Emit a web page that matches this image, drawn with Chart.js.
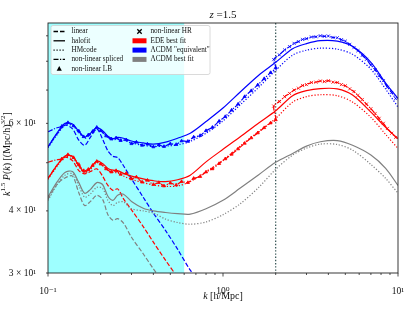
<!DOCTYPE html>
<html>
<head>
<meta charset="utf-8">
<script src="https://cdn.jsdelivr.net/npm/chart.js@4.4.1/dist/chart.umd.min.js"></script>
<style>
  html, body { margin: 0; padding: 0; background: #fff; }
  #chart { display: block; }
</style>
</head>
<body>
<canvas id="chart" width="414" height="311"></canvas>
<script>
// k (h/Mpc) for the theory curves
const kTheory = [0.1, 0.113, 0.125, 0.138, 0.15, 0.162, 0.175, 0.19, 0.205, 0.22, 0.235, 0.25, 0.27, 0.3, 0.35, 0.4, 0.47, 0.55, 0.65, 0.8, 1.0, 1.25, 1.6, 2.0, 2.5, 3.0, 3.6, 4.5, 5.5, 7.0, 8.5, 10];

// LCDM "equivalent" (blue)
const blueHalofit = [53.8, 57.5, 60.0, 59.8, 57.8, 56.3, 57.3, 58.8, 58.0, 56.5, 55.9, 56.2, 56.0, 55.3, 54.8, 54.5, 55.0, 56.0, 57.3, 60.5, 64.4, 69.3, 75.0, 79.6, 84.8, 86.8, 88.0, 87.8, 85.7, 79.6, 72.3, 67.3];
const blueHMcode = [53.6, 57.0, 59.5, 59.4, 57.5, 56.0, 57.0, 58.3, 57.6, 56.2, 55.6, 55.8, 55.5, 54.8, 54.2, 53.9, 54.0, 54.3, 55.2, 57.3, 60.7, 65.3, 70.9, 76.7, 82.3, 84.2, 85.0, 84.6, 82.6, 77.1, 70.3, 64.7];
const blueLinear = [53.8, 57.3, 59.5, 58.5, 55.5, 54.2, 56.3, 58.5, 55.8, 52.8, 51.5, 51.2, 49.3, 46.4, 42.6, 39.6, 36.5, 33.5, 30.4, 27.6];

// EDE best fit (red)
const redHalofit = [46.5, 49.5, 51.6, 51.5, 49.3, 47.9, 48.8, 50.4, 49.8, 48.7, 48.3, 48.2, 47.6, 47.0, 46.4, 46.0, 45.8, 46.2, 47.2, 50.2, 53.2, 56.3, 60.1, 63.6, 68.2, 69.8, 70.5, 70.4, 68.4, 63.2, 58.9, 55.9];
const redHMcode = [46.3, 49.2, 51.3, 51.2, 49.1, 47.7, 48.5, 50.0, 49.4, 48.3, 47.8, 47.7, 47.0, 46.3, 45.6, 45.1, 44.8, 44.9, 45.8, 48.0, 50.6, 54.0, 57.8, 61.4, 66.2, 67.9, 68.5, 68.2, 66.2, 61.7, 57.0, 53.4];
const redLinear = [46.5, 49.5, 51.3, 50.5, 48.2, 47.5, 48.0, 48.6, 47.0, 45.0, 44.0, 44.3, 42.3, 40.2, 37.2, 34.6, 31.8, 29.4];

// LCDM best fit (gray)
const grayHalofit = [42.7, 45.8, 47.8, 48.0, 45.6, 43.4, 44.2, 45.6, 45.2, 42.8, 42.0, 43.0, 43.2, 41.8, 40.5, 40.0, 39.7, 39.5, 39.4, 40.4, 42.0, 44.4, 47.3, 50.1, 52.2, 54.0, 55.1, 55.4, 54.2, 51.8, 48.7, 45.0];
const grayHMcode = [42.0, 45.2, 47.2, 47.5, 45.0, 42.6, 43.3, 44.6, 44.4, 42.0, 41.0, 41.6, 41.7, 40.4, 40.0, 39.6, 38.5, 37.9, 37.6, 38.0, 39.3, 41.3, 44.6, 48.5, 51.8, 53.5, 54.5, 54.4, 53.0, 49.6, 46.5, 43.4];
const grayLinear = [42.3, 45.3, 46.6, 47.0, 43.5, 41.0, 41.8, 43.0, 42.2, 39.3, 38.3, 38.6, 37.8, 35.4, 32.8, 30.6, 28.4];

// simulations: low-k start of the spliced curve, LB box (k < 2), HR box (k > 2)
const kSpliceLow = [0.1, 0.11];
const blueSpliceLow = [57.7, 58.6];
const redSpliceLow = [50.1, 50.6];

const kLB = [0.12, 0.13, 0.14, 0.15, 0.16, 0.17, 0.18, 0.19, 0.2, 0.215, 0.23, 0.245, 0.26, 0.28, 0.3, 0.32, 0.345, 0.37, 0.4, 0.43, 0.46, 0.5, 0.54, 0.58, 0.63, 0.68, 0.74, 0.8, 0.87, 0.95, 1.03, 1.12, 1.22, 1.33, 1.45, 1.58, 1.72, 1.87, 2.0];
const blueLB = [59.2, 60.2, 59.3, 57.9, 56.4, 56.9, 57.8, 58.9, 58.0, 56.6, 55.8, 56.1, 55.4, 55.6, 54.6, 55.0, 54.2, 54.5, 53.8, 54.3, 53.9, 54.6, 54.4, 55.3, 55.2, 56.3, 56.7, 58.0, 58.9, 60.6, 61.9, 63.8, 65.6, 67.9, 69.8, 71.7, 73.8, 75.9, 77.6];
const redLB = [50.9, 51.9, 51.2, 49.6, 48.2, 48.5, 49.4, 50.3, 49.7, 48.6, 47.9, 48.2, 47.4, 47.6, 46.4, 46.8, 45.7, 46.1, 45.2, 45.6, 44.9, 45.5, 45.1, 45.8, 45.6, 46.5, 46.9, 47.9, 48.6, 49.8, 50.9, 52.0, 53.3, 54.7, 56.1, 57.4, 58.8, 60.1, 61.0];

const kHR = [1.95, 2.1, 2.25, 2.4, 2.55, 2.7, 2.85, 3.0, 3.2, 3.4, 3.6, 3.8, 4.0, 4.25, 4.5, 4.75, 5.0, 5.3, 5.6, 5.9, 6.25, 6.6, 7.0, 7.4, 7.8, 8.25, 8.7, 9.2, 9.7];
const blueHR = [80.6, 82.4, 84.3, 85.6, 86.9, 87.6, 88.5, 88.8, 89.5, 89.6, 90.0, 89.8, 89.9, 89.3, 89.2, 88.4, 87.8, 86.5, 85.2, 84.0, 82.2, 80.7, 78.6, 76.9, 74.8, 73.1, 70.9, 69.2, 67.3];
const redHR = [65.0, 66.4, 67.9, 68.9, 70.0, 70.6, 71.5, 71.8, 72.5, 72.6, 73.0, 72.8, 73.1, 72.6, 72.5, 71.8, 71.4, 70.4, 69.5, 68.3, 67.0, 65.6, 64.2, 62.8, 61.4, 60.0, 58.6, 57.3, 56.2];

// shaded k range and splicing scale
const cyanRange = [0.1, 0.6];
const kSplice = 2.0;

// ticks
const xTickValues = [0.1, 0.2, 0.3, 0.4, 0.5, 0.6, 0.7, 0.8, 0.9, 1, 2, 3, 4, 5, 6, 7, 8, 9, 10];
const xTickLabels = ['10⁻¹', '', '', '', '', '', '', '', '', '10⁰', '', '', '', '', '', '', '', '', '10¹'];
const xMajor = [0.1, 1, 10];
const yTickValues = [30, 40, 50, 60, 70, 80, 90];
const yTickLabels = ['3 × 10¹', '4 × 10¹', '', '6 × 10¹', '', '', ''];

const legendLeft = ['linear', 'halofit', 'HMcode', 'non-linear spliced', 'non-linear LB'];
const legendRight = ['non-linear HR', 'EDE best fit', 'ΛCDM "equivalent"', 'ΛCDM best fit'];

const BLUE = '#0000ff', RED = '#ff0000', GRAY = '#808080';
const SERIF = "'Liberation Serif', 'DejaVu Serif', serif";
const DASH = [4.5, 2], DOT = [1.2, 1.8], DASHDOT = [5, 1.5, 1.2, 1.5];

function pts(ks, vs) { return vs.map((v, i) => ({ x: ks[i], y: v })); }

function curve(label, ks, vs, color, dash) {
  return {
    label, data: pts(ks, vs), borderColor: color, borderWidth: 1.2, borderDash: dash,
    pointRadius: 0, fill: false, tension: 0.3
  };
}

function marks(label, ks, vs, color, style, r) {
  return {
    label, data: pts(ks, vs), showLine: false, borderColor: color, backgroundColor: color,
    pointStyle: style, pointRadius: r, pointBorderWidth: 0.8
  };
}

function fontOf(p, size) {
  return (p.it ? 'italic ' : '') + (p.sup ? size * 0.7 : size) + 'px ' + SERIF;
}

// text with italic parts and superscripts, centred at (x, y)
function drawRich(ctx, parts, x, y, size, rotate) {
  ctx.save();
  ctx.translate(x, y);
  if (rotate) ctx.rotate(-Math.PI / 2);
  ctx.textAlign = 'left';
  ctx.textBaseline = 'middle';
  ctx.fillStyle = '#111';
  let w = 0;
  parts.forEach(p => { ctx.font = fontOf(p, size); w += ctx.measureText(p.t).width; });
  let cx = -w / 2;
  parts.forEach(p => {
    ctx.font = fontOf(p, size);
    ctx.fillText(p.t, cx, p.sup ? -size * 0.38 : 0);
    cx += ctx.measureText(p.t).width;
  });
  ctx.restore();
}

function drawLegend(ctx, a) {
  const bx = a.left + 3, by = a.top + 2.5, bw = 159, bh = 49;
  ctx.save();
  ctx.fillStyle = 'rgba(255,255,255,0.8)';
  ctx.strokeStyle = '#d0d0d0';
  ctx.lineWidth = 0.8;
  ctx.beginPath();
  ctx.roundRect(bx, by, bw, bh, 2);
  ctx.fill();
  ctx.stroke();

  const rowY = i => by + 6 + i * 9.3;
  const h0 = bx + 2.5, h1 = bx + 14;
  ctx.strokeStyle = '#000';
  ctx.fillStyle = '#000';
  ctx.lineWidth = 1.3;
  [DASH, [], DOT, DASHDOT].forEach((d, i) => {
    ctx.setLineDash(d);
    ctx.beginPath();
    ctx.moveTo(h0, rowY(i));
    ctx.lineTo(h1, rowY(i));
    ctx.stroke();
  });
  ctx.setLineDash([]);
  // triangle marker
  const tx = (h0 + h1) / 2, ty = rowY(4);
  ctx.beginPath();
  ctx.moveTo(tx, ty - 2.6);
  ctx.lineTo(tx + 2.6, ty + 2);
  ctx.lineTo(tx - 2.6, ty + 2);
  ctx.closePath();
  ctx.fill();

  // right column handles
  const c0 = bx + 81.5, c1 = bx + 95.5, cm = (c0 + c1) / 2;
  ctx.beginPath();
  ctx.moveTo(cm - 2.2, rowY(0) - 2.2); ctx.lineTo(cm + 2.2, rowY(0) + 2.2);
  ctx.moveTo(cm + 2.2, rowY(0) - 2.2); ctx.lineTo(cm - 2.2, rowY(0) + 2.2);
  ctx.stroke();
  [RED, BLUE, GRAY].forEach((c, i) => {
    ctx.fillStyle = c;
    ctx.fillRect(c0, rowY(i + 1) - 2.5, c1 - c0, 5);
  });

  ctx.fillStyle = '#111';
  ctx.font = '7.2px ' + SERIF;
  ctx.textBaseline = 'middle';
  ctx.textAlign = 'left';
  legendLeft.forEach((t, i) => ctx.fillText(t, bx + 20.5, rowY(i)));
  legendRight.forEach((t, i) => ctx.fillText(t, bx + 99.5, rowY(i)));
  ctx.restore();
}

const decor = {
  id: 'decor',
  beforeDatasetsDraw(chart) {
    const { ctx, chartArea: a, scales: { x } } = chart;
    ctx.save();
    const x0 = x.getPixelForValue(cyanRange[0]), x1 = x.getPixelForValue(cyanRange[1]);
    ctx.fillStyle = 'rgba(0,255,255,0.38)';
    ctx.fillRect(x0, a.top, x1 - x0, a.bottom - a.top);
    const xs = x.getPixelForValue(kSplice);
    ctx.strokeStyle = '#2f4f4f';
    ctx.lineWidth = 1.2;
    ctx.setLineDash([1.4, 1.8]);
    ctx.beginPath();
    ctx.moveTo(xs, a.top);
    ctx.lineTo(xs, a.bottom);
    ctx.stroke();
    ctx.restore();
  },
  afterDraw(chart) {
    const { ctx, chartArea: a, scales: { x, y } } = chart;
    ctx.save();
    ctx.strokeStyle = '#222';
    ctx.lineWidth = 0.9;
    ctx.strokeRect(a.left, a.top, a.right - a.left, a.bottom - a.top);
    ctx.lineWidth = 0.8;
    ctx.beginPath();
    xTickValues.forEach(v => {
      const px = x.getPixelForValue(v);
      const len = xMajor.includes(v) ? 3.5 : 2;
      ctx.moveTo(px, a.bottom);
      ctx.lineTo(px, a.bottom + len);
    });
    yTickValues.forEach(v => {
      const py = y.getPixelForValue(v);
      ctx.moveTo(a.left, py);
      ctx.lineTo(a.left - 2, py);
    });
    ctx.stroke();
    ctx.restore();

    drawLegend(ctx, a);

    const cx = (a.left + a.right) / 2;
    drawRich(ctx, [{ t: 'z', it: true }, { t: ' =1.5' }], cx, 15, 11);
    drawRich(ctx, [{ t: 'k', it: true }, { t: ' [h/Mpc]' }], cx, 296, 10);
    drawRich(ctx, [
      { t: 'k', it: true }, { t: '1.5', sup: true }, { t: ' ' }, { t: 'P', it: true },
      { t: '(' }, { t: 'k', it: true }, { t: ') [(Mpc/h)' }, { t: '3/2', sup: true }, { t: ']' }
    ], 7, 154, 10, true);
  }
};

const tickFont = { family: SERIF, size: 9.5 };

new Chart(document.getElementById('chart'), {
  type: 'line',
  data: {
    datasets: [
      curve('gray linear', kTheory, grayLinear, GRAY, DASH),
      curve('gray halofit', kTheory, grayHalofit, GRAY, []),
      curve('gray HMcode', kTheory, grayHMcode, GRAY, DOT),
      curve('red linear', kTheory, redLinear, RED, DASH),
      curve('red halofit', kTheory, redHalofit, RED, []),
      curve('red HMcode', kTheory, redHMcode, RED, DOT),
      curve('red spliced', kSpliceLow.concat(kLB, kHR), redSpliceLow.concat(redLB, redHR), RED, DASHDOT),
      marks('red LB', kLB, redLB, RED, 'triangle', 1.8),
      marks('red HR', kHR, redHR, RED, 'crossRot', 2.2),
      curve('blue linear', kTheory, blueLinear, BLUE, DASH),
      curve('blue halofit', kTheory, blueHalofit, BLUE, []),
      curve('blue HMcode', kTheory, blueHMcode, BLUE, DOT),
      curve('blue spliced', kSpliceLow.concat(kLB, kHR), blueSpliceLow.concat(blueLB, blueHR), BLUE, DASHDOT),
      marks('blue LB', kLB, blueLB, BLUE, 'triangle', 1.8),
      marks('blue HR', kHR, blueHR, BLUE, 'crossRot', 2.2)
    ]
  },
  options: {
    responsive: false,
    animation: false,
    devicePixelRatio: 1,
    layout: { padding: { top: 23, right: 16, left: 0, bottom: 0 } },
    plugins: {
      legend: { display: false },
      tooltip: { enabled: false },
      title: { display: false }
    },
    scales: {
      x: {
        type: 'logarithmic', min: 0.1, max: 10,
        grid: { display: false }, border: { display: false },
        afterBuildTicks: s => { s.ticks = xTickValues.map(v => ({ value: v })); },
        afterFit: s => { s.height = 38; },
        ticks: {
          autoSkip: false, maxRotation: 0, padding: 5, color: '#111', font: tickFont,
          callback: (v, i) => xTickLabels[i]
        }
      },
      y: {
        type: 'logarithmic', min: 30, max: 95.5,
        grid: { display: false }, border: { display: false },
        afterBuildTicks: s => { s.ticks = yTickValues.map(v => ({ value: v })); },
        afterFit: s => { s.width = 48; },
        ticks: {
          autoSkip: false, padding: 4, color: '#111', font: tickFont,
          callback: (v, i) => yTickLabels[i]
        }
      }
    }
  },
  plugins: [decor]
});
</script>
</body>
</html>
